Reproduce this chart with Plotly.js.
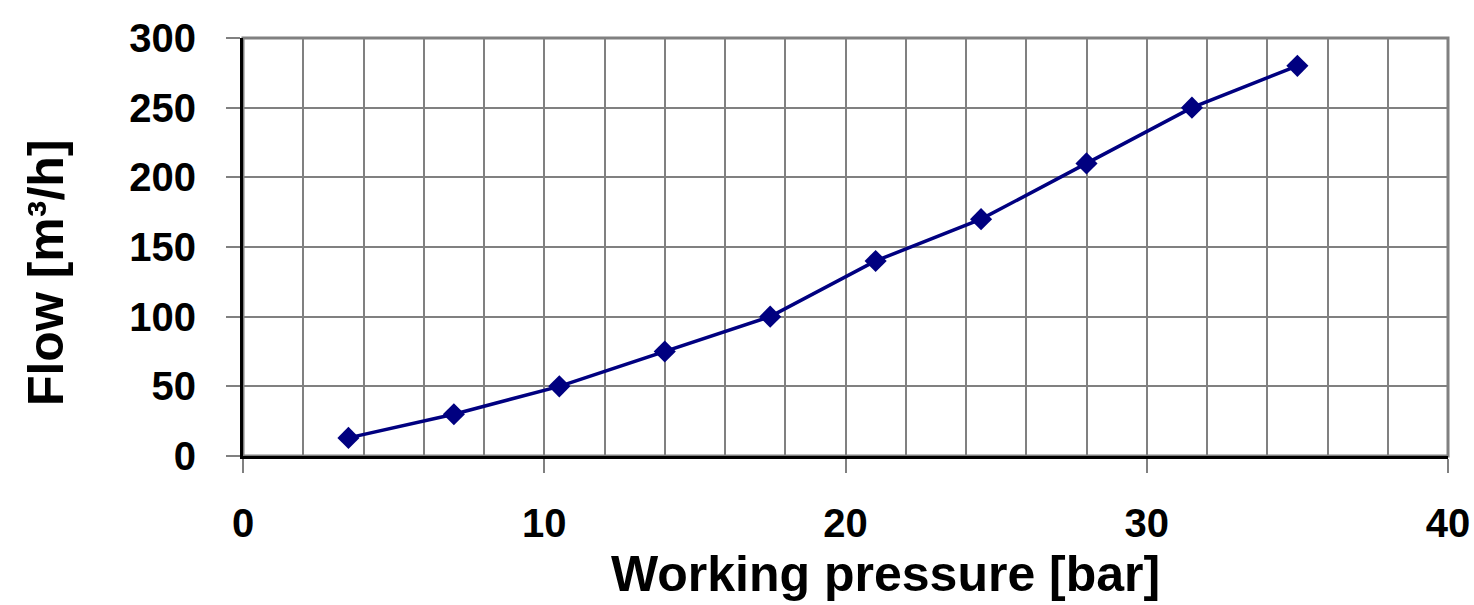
<!DOCTYPE html>
<html>
<head>
<meta charset="utf-8">
<script src="https://cdn.plot.ly/plotly-3.0.1.min.js"></script>
<style>html,body{margin:0;padding:0;background:#fff;}#chart{width:1474px;height:605px;}</style>
</head>
<body>
<div id="chart"></div>
<script>
const pressure = [3.5, 7, 10.5, 14, 17.5, 21, 24.5, 28, 31.5, 35];
const flow = [13, 30, 50, 75, 100, 140, 170, 210, 250, 280];
const xTicks = [0, 10, 20, 30, 40];
const yTicks = [0, 50, 100, 150, 200, 250, 300];
const xTitle = 'Working pressure [bar]';
const yTitle = 'Flow [m³/h]';

const fontFam = '"Liberation Sans", Arial, sans-serif';
const titleFont = {family: fontFam, size: 50, weight: 'bold', color: '#000'};

const trace = {
  x: pressure, y: flow, type: 'scatter', mode: 'lines+markers',
  line: {color: '#000080', width: 3.5},
  marker: {symbol: 'diamond', size: 17, color: '#000080'},
  hoverinfo: 'x+y'
};

const layout = {
  width: 1474, height: 605,
  margin: {l: 243, r: 26, t: 38, b: 149},
  paper_bgcolor: '#fff', plot_bgcolor: '#fff',
  showlegend: false,
  font: {family: fontFam, color: '#000'},
  xaxis: {
    range: [0, 40], tickvals: xTicks, ticktext: xTicks.map(String),
    showgrid: true, gridcolor: '#808080', gridwidth: 2,
    minor: {dtick: 2, tick0: 0, showgrid: true, gridcolor: '#808080', gridwidth: 2, ticks: ''},
    ticks: 'outside', ticklen: 14, tickwidth: 2, tickcolor: '#808080',
    ticklabelstandoff: 16,
    tickfont: {family: fontFam, size: 40, weight: 'bold', color: '#000'},
    showline: true, linecolor: '#000', linewidth: 3,
    zeroline: false, fixedrange: true, automargin: false
  },
  yaxis: {
    range: [0, 300], tickvals: yTicks, ticktext: yTicks.map(String),
    showgrid: true, gridcolor: '#808080', gridwidth: 2,
    ticks: 'outside', ticklen: 14, tickwidth: 2, tickcolor: '#808080',
    ticklabelstandoff: 22,
    tickfont: {family: fontFam, size: 40, weight: 'bold', color: '#000'},
    showline: true, linecolor: '#000', linewidth: 3,
    zeroline: false, fixedrange: true, automargin: false
  },
  annotations: [
    {text: xTitle, xref: 'paper', yref: 'paper', x: 0.5336, y: -0.282,
     xanchor: 'center', yanchor: 'middle', showarrow: false, font: titleFont},
    {text: yTitle, xref: 'paper', yref: 'paper', x: -0.1635, y: 0.44,
     xanchor: 'center', yanchor: 'middle', textangle: -90, showarrow: false, font: titleFont}
  ],
  shapes: [{
    type: 'rect', xref: 'paper', yref: 'paper', x0: 0, x1: 1, y0: 0, y1: 1,
    line: {color: '#808080', width: 3}, layer: 'below'
  }]
};

Plotly.newPlot('chart', [trace], layout, {displayModeBar: false, staticPlot: true});
</script>
</body>
</html>
